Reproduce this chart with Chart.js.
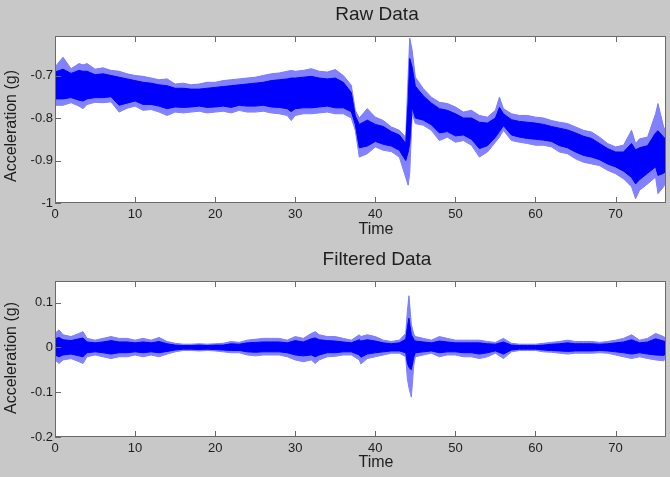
<!DOCTYPE html>
<html>
<head>
<meta charset="utf-8">
<title>Raw Data / Filtered Data</title>
<script src="https://cdn.jsdelivr.net/npm/chart.js@4.4.0/dist/chart.umd.min.js"></script>
<style>
  html, body { margin: 0; padding: 0; background: #c8c8c8; overflow: hidden; }
  #wrap { position: relative; width: 670px; height: 477px; }
  #rawChart { position: absolute; left: 0; top: 0; }
  #filtChart { position: absolute; left: 0; top: 240px; }
</style>
</head>
<body>
<div id="wrap">
  <canvas id="rawChart" width="670" height="240"></canvas>
  <canvas id="filtChart" width="670" height="237"></canvas>
</div>
<script>
// tick labels
const timeTicks = [0, 10, 20, 30, 40, 50, 60, 70];
const rawYTicks = [-1, -0.9, -0.8, -0.7];
const filtYTicks = [-0.2, -0.1, 0, 0.1];

// raw data: time (s) and the envelope of the noisy trace (outer = faint spikes, core = dense part)
const rawTime = [0, 1, 2, 3, 3.5, 4, 5, 6, 7, 8,
  9, 10, 11, 12, 13, 14, 15, 16, 17, 18,
  19, 20, 21, 22, 23, 24, 25, 26, 27, 28,
  29, 29.5, 30, 31, 32, 33, 34, 35, 36, 37,
  37.5, 38, 39, 40, 41, 42, 43, 43.8, 44.1, 44.3,
  44.6, 45, 46, 47, 48, 49, 50, 51, 52, 53,
  54, 55, 55.5, 56, 57, 58, 59, 60, 61, 62,
  63, 64, 65, 66, 67, 68, 69, 70, 71, 72,
  72.5, 73, 74, 75, 75.3, 76, 76.3];
const rawHi = [-0.680, -0.657, -0.684, -0.672, -0.675, -0.672, -0.685, -0.682, -0.688, -0.690,
  -0.696, -0.700, -0.702, -0.706, -0.710, -0.708, -0.720, -0.718, -0.722, -0.720,
  -0.716, -0.716, -0.712, -0.710, -0.708, -0.706, -0.704, -0.700, -0.696, -0.694,
  -0.690, -0.688, -0.690, -0.688, -0.684, -0.690, -0.692, -0.686, -0.700, -0.723,
  -0.782, -0.800, -0.778, -0.798, -0.806, -0.821, -0.829, -0.845, -0.700, -0.612,
  -0.641, -0.704, -0.731, -0.751, -0.763, -0.766, -0.774, -0.786, -0.782, -0.794,
  -0.798, -0.782, -0.751, -0.778, -0.790, -0.794, -0.794, -0.798, -0.800, -0.806,
  -0.810, -0.813, -0.821, -0.829, -0.833, -0.845, -0.860, -0.868, -0.864, -0.829,
  -0.860, -0.849, -0.845, -0.790, -0.766, -0.821, -0.830];
const rawLo = [-0.770, -0.770, -0.764, -0.772, -0.778, -0.768, -0.763, -0.764, -0.762, -0.786,
  -0.777, -0.772, -0.782, -0.780, -0.786, -0.794, -0.786, -0.788, -0.786, -0.784,
  -0.788, -0.786, -0.784, -0.788, -0.782, -0.786, -0.786, -0.784, -0.788, -0.790,
  -0.794, -0.806, -0.794, -0.790, -0.790, -0.788, -0.786, -0.790, -0.790, -0.800,
  -0.829, -0.892, -0.884, -0.868, -0.876, -0.879, -0.892, -0.940, -0.958, -0.930,
  -0.789, -0.813, -0.817, -0.829, -0.853, -0.845, -0.857, -0.853, -0.864, -0.892,
  -0.880, -0.857, -0.845, -0.829, -0.853, -0.857, -0.860, -0.864, -0.864, -0.868,
  -0.880, -0.884, -0.896, -0.904, -0.908, -0.912, -0.923, -0.931, -0.943, -0.962,
  -0.990, -0.970, -0.955, -0.939, -0.978, -0.962, -0.950];
const rawCoreHi = [-0.692, -0.685, -0.695, -0.688, -0.690, -0.690, -0.698, -0.696, -0.700, -0.704,
  -0.708, -0.712, -0.716, -0.718, -0.722, -0.724, -0.730, -0.730, -0.732, -0.732,
  -0.730, -0.728, -0.726, -0.724, -0.722, -0.720, -0.718, -0.716, -0.712, -0.710,
  -0.708, -0.706, -0.706, -0.704, -0.702, -0.706, -0.708, -0.706, -0.716, -0.740,
  -0.795, -0.815, -0.805, -0.815, -0.820, -0.832, -0.840, -0.860, -0.760, -0.660,
  -0.680, -0.725, -0.748, -0.765, -0.778, -0.782, -0.790, -0.800, -0.800, -0.810,
  -0.812, -0.800, -0.775, -0.790, -0.804, -0.808, -0.810, -0.812, -0.815, -0.820,
  -0.824, -0.828, -0.835, -0.843, -0.848, -0.860, -0.872, -0.880, -0.880, -0.860,
  -0.875, -0.870, -0.865, -0.835, -0.830, -0.845, -0.850];
const rawCoreLo = [-0.755, -0.755, -0.752, -0.758, -0.760, -0.755, -0.752, -0.752, -0.750, -0.770,
  -0.765, -0.760, -0.768, -0.768, -0.772, -0.778, -0.774, -0.775, -0.774, -0.772,
  -0.775, -0.774, -0.772, -0.775, -0.770, -0.772, -0.772, -0.770, -0.774, -0.775,
  -0.778, -0.785, -0.778, -0.776, -0.776, -0.774, -0.772, -0.776, -0.776, -0.785,
  -0.815, -0.870, -0.866, -0.855, -0.862, -0.866, -0.876, -0.900, -0.880, -0.860,
  -0.775, -0.800, -0.805, -0.816, -0.835, -0.832, -0.842, -0.840, -0.850, -0.872,
  -0.865, -0.845, -0.832, -0.818, -0.840, -0.845, -0.848, -0.850, -0.852, -0.855,
  -0.865, -0.870, -0.880, -0.888, -0.892, -0.898, -0.908, -0.915, -0.925, -0.940,
  -0.955, -0.945, -0.930, -0.915, -0.935, -0.930, -0.925];

// filtered data
const filtTime = [0, 0.5, 1, 2, 3, 3.5, 4, 5, 6, 7,
  8, 9, 10, 11, 12, 13, 14, 15, 16, 17,
  18, 19, 20, 21, 22, 23, 24, 25, 26, 27,
  28, 29, 30, 31, 32, 32.5, 33, 34, 35, 36,
  37, 38, 38.2, 39, 40, 41, 42, 43, 43.8, 44,
  44.2, 44.5, 44.8, 45, 46, 47, 48, 49, 50, 51,
  52, 53, 54, 55, 56, 57, 58, 59, 60, 61,
  62, 63, 64, 65, 66, 67, 68, 69, 70, 71,
  72, 73, 74, 75, 76, 76.3];
const filtHi = [0.031, 0.039, 0.028, 0.024, 0.031, 0.035, 0.020, 0.016, 0.020, 0.024,
  0.020, 0.020, 0.016, 0.020, 0.016, 0.022, 0.013, 0.009, 0.007, 0.007,
  0.008, 0.007, 0.008, 0.009, 0.013, 0.011, 0.016, 0.018, 0.020, 0.020,
  0.020, 0.016, 0.024, 0.020, 0.031, 0.035, 0.028, 0.024, 0.024, 0.020,
  0.016, 0.028, 0.024, 0.028, 0.024, 0.016, 0.013, 0.016, 0.031, 0.080,
  0.115, 0.050, 0.030, 0.024, 0.020, 0.016, 0.024, 0.020, 0.016, 0.016,
  0.016, 0.016, 0.013, 0.011, 0.020, 0.009, 0.007, 0.007, 0.007, 0.009,
  0.011, 0.013, 0.016, 0.013, 0.013, 0.013, 0.011, 0.013, 0.016, 0.020,
  0.028, 0.016, 0.020, 0.031, 0.024, 0.020];
const filtLo = [-0.028, -0.036, -0.028, -0.025, -0.032, -0.036, -0.021, -0.017, -0.021, -0.025,
  -0.021, -0.021, -0.017, -0.021, -0.017, -0.021, -0.015, -0.010, -0.007, -0.007,
  -0.008, -0.007, -0.008, -0.010, -0.012, -0.012, -0.017, -0.019, -0.017, -0.017,
  -0.017, -0.021, -0.028, -0.032, -0.028, -0.036, -0.028, -0.021, -0.020, -0.017,
  -0.017, -0.028, -0.037, -0.025, -0.021, -0.017, -0.013, -0.013, -0.021, -0.070,
  -0.090, -0.111, -0.040, -0.021, -0.017, -0.013, -0.021, -0.017, -0.017, -0.021,
  -0.021, -0.025, -0.021, -0.013, -0.025, -0.010, -0.007, -0.007, -0.007, -0.010,
  -0.011, -0.013, -0.015, -0.013, -0.013, -0.013, -0.012, -0.013, -0.017, -0.021,
  -0.025, -0.021, -0.025, -0.028, -0.030, -0.025];
const filtCoreHi = [0.019, 0.022, 0.017, 0.015, 0.019, 0.021, 0.012, 0.010, 0.012, 0.015,
  0.012, 0.012, 0.010, 0.012, 0.010, 0.013, 0.008, 0.005, 0.004, 0.004,
  0.005, 0.004, 0.005, 0.005, 0.008, 0.007, 0.010, 0.011, 0.012, 0.012,
  0.012, 0.010, 0.015, 0.012, 0.019, 0.021, 0.017, 0.015, 0.014, 0.012,
  0.010, 0.017, 0.014, 0.017, 0.014, 0.010, 0.008, 0.010, 0.018, 0.045,
  0.065, 0.028, 0.018, 0.014, 0.012, 0.010, 0.014, 0.012, 0.010, 0.010,
  0.010, 0.010, 0.008, 0.007, 0.012, 0.005, 0.004, 0.004, 0.004, 0.005,
  0.007, 0.008, 0.010, 0.008, 0.008, 0.008, 0.007, 0.008, 0.010, 0.012,
  0.017, 0.010, 0.012, 0.019, 0.014, 0.012];
const filtCoreLo = [-0.017, -0.021, -0.017, -0.015, -0.019, -0.021, -0.012, -0.010, -0.012, -0.015,
  -0.012, -0.012, -0.010, -0.012, -0.010, -0.012, -0.009, -0.006, -0.004, -0.004,
  -0.005, -0.004, -0.005, -0.006, -0.007, -0.007, -0.010, -0.011, -0.010, -0.010,
  -0.010, -0.012, -0.017, -0.019, -0.017, -0.021, -0.017, -0.012, -0.012, -0.010,
  -0.010, -0.017, -0.022, -0.015, -0.012, -0.010, -0.008, -0.008, -0.012, -0.035,
  -0.045, -0.050, -0.022, -0.012, -0.010, -0.008, -0.012, -0.010, -0.010, -0.012,
  -0.012, -0.015, -0.012, -0.008, -0.015, -0.006, -0.004, -0.004, -0.004, -0.006,
  -0.007, -0.008, -0.009, -0.008, -0.008, -0.008, -0.007, -0.008, -0.010, -0.012,
  -0.015, -0.012, -0.015, -0.017, -0.018, -0.015];

const FONT = '"Liberation Sans", Arial, Helvetica, sans-serif';

function pts(xs, ys) {
  return xs.map((x, i) => ({ x: x, y: ys[i] }));
}

// matlab style box, inward ticks, and the titles
const matlabAxes = {
  id: 'matlabAxes',
  beforeDraw(chart) {
    const { ctx, chartArea: a } = chart;
    ctx.save();
    ctx.fillStyle = '#ffffff';
    ctx.fillRect(a.left, a.top, a.right - a.left, a.bottom - a.top);
    ctx.restore();
  },
  afterDraw(chart, args, opts) {
    const { ctx, chartArea: a, scales } = chart;
    ctx.save();
    ctx.strokeStyle = '#6a6a6a';
    ctx.lineWidth = 1;
    ctx.strokeRect(a.left + 0.5, a.top + 0.5, a.right - a.left - 1, a.bottom - a.top - 1);
    ctx.beginPath();
    scales.x.ticks.forEach(t => {
      const px = Math.round(scales.x.getPixelForValue(t.value)) + 0.5;
      ctx.moveTo(px, a.bottom); ctx.lineTo(px, a.bottom - 6);
      ctx.moveTo(px, a.top); ctx.lineTo(px, a.top + 6);
    });
    scales.y.ticks.forEach(t => {
      const py = Math.round(scales.y.getPixelForValue(t.value)) + 0.5;
      ctx.moveTo(a.left, py); ctx.lineTo(a.left + 6, py);
    });
    ctx.stroke();

    ctx.fillStyle = '#1e1e1e';
    ctx.textAlign = 'center';
    ctx.textBaseline = 'middle';
    ctx.font = '19px ' + FONT;
    ctx.fillText(opts.title, opts.titleX, opts.titleY);
    ctx.font = '16px ' + FONT;
    ctx.fillText(opts.xLabel, opts.xLabelX, opts.xLabelY);
    ctx.translate(opts.yLabelX, opts.yLabelY);
    ctx.rotate(-Math.PI / 2);
    ctx.font = '16px ' + FONT;
    ctx.fillText(opts.yLabel, 0, 0);
    ctx.restore();
  }
};

function makeChart(id, cfg) {
  return new Chart(document.getElementById(id), {
    type: 'line',
    data: {
      datasets: [
        { data: pts(cfg.time, cfg.coreHi), borderColor: '#0000ff', backgroundColor: '#0000ff',
          borderWidth: 1, fill: '+1', order: 0 },
        { data: pts(cfg.time, cfg.coreLo), borderColor: '#0000ff', borderWidth: 1, fill: false, order: 1 },
        { data: pts(cfg.time, cfg.hi), borderColor: '#7a7aff', backgroundColor: '#8282ff',
          borderWidth: 1, fill: '+1', order: 2 },
        { data: pts(cfg.time, cfg.lo), borderColor: '#7a7aff', borderWidth: 1, fill: false, order: 3 }
      ]
    },
    options: {
      responsive: false,
      animation: false,
      devicePixelRatio: 1,
      layout: { padding: { top: cfg.padTop, right: 4, left: 0, bottom: 0 } },
      elements: { point: { radius: 0 }, line: { tension: 0 } },
      plugins: {
        legend: { display: false },
        tooltip: { enabled: false },
        matlabAxes: {
          title: cfg.title, titleX: 377, titleY: cfg.titleY,
          xLabel: 'Time', xLabelX: 376, xLabelY: cfg.xLabelY,
          yLabel: 'Acceleration (g)', yLabelX: 12, yLabelY: cfg.yLabelY
        }
      },
      scales: {
        x: {
          type: 'linear', min: 0, max: 76.3,
          grid: { display: false, drawTicks: false },
          border: { display: false },
          afterBuildTicks: s => { s.ticks = timeTicks.map(v => ({ value: v })); },
          afterFit: s => { s.height = cfg.xHeight; },
          ticks: { padding: 4, color: '#1e1e1e', font: { family: FONT, size: 13 }, maxRotation: 0,
            callback: v => String(v) }
        },
        y: {
          type: 'linear', min: cfg.yMin, max: cfg.yMax,
          grid: { display: false, drawTicks: false },
          border: { display: false },
          afterBuildTicks: s => { s.ticks = cfg.yTicks.map(v => ({ value: v })); },
          afterFit: s => { s.width = 55; },
          ticks: { padding: 2, color: '#1e1e1e', font: { family: FONT, size: 13 },
            callback: v => String(v) }
        }
      }
    },
    plugins: [matlabAxes]
  });
}

makeChart('rawChart', {
  time: rawTime, hi: rawHi, lo: rawLo, coreHi: rawCoreHi, coreLo: rawCoreLo,
  yMin: -1, yMax: -0.607, yTicks: rawYTicks,
  padTop: 36, xHeight: 37,
  title: 'Raw Data', titleY: 15, xLabelY: 230, yLabelY: 126
});

makeChart('filtChart', {
  time: filtTime, hi: filtHi, lo: filtLo, coreHi: filtCoreHi, coreLo: filtCoreLo,
  yMin: -0.2, yMax: 0.148, yTicks: filtYTicks,
  padTop: 41, xHeight: 40,
  title: 'Filtered Data', titleY: 20, xLabelY: 223, yLabelY: 118
});
</script>
</body>
</html>
